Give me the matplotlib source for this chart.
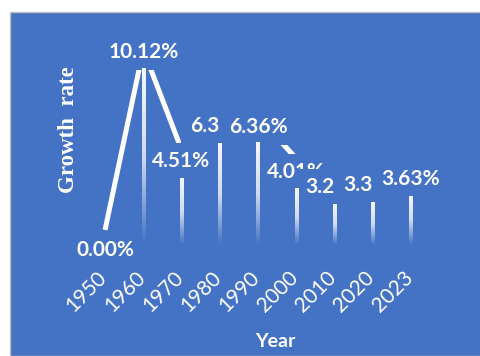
import matplotlib.pyplot as plt
import numpy as np
from matplotlib.colors import LinearSegmentedColormap
from matplotlib.patches import Rectangle
from matplotlib.path import Path
from matplotlib.transforms import ScaledTranslation

years = ['1950', '1960', '1970', '1980', '1990', '2000', '2010', '2020', '2023']
growth = [0.00, 10.12, 4.51, 6.30, 6.36, 4.01, 3.20, 3.30, 3.63]

# vertical nudges (points) for the data labels, roughly where excel put them
label_dy = [-14.5, -1.5, -8.5, -6, -7.5, -9.5, -10, -10, -10]

blue = '#4472C4'


def tall_box(x0, y0, width, height, mutation_size):
    # excel label boxes: opaque, a bit of padding all round
    px = 0.45 * mutation_size
    py = 0.38 * mutation_size
    return Path([(x0 - px, y0 - py), (x0 + width + px, y0 - py),
                 (x0 + width + px, y0 + height + py), (x0 - px, y0 + height + py),
                 (x0 - px, y0 - py)], closed=True)


fig = plt.figure(figsize=(4.8, 3.56), dpi=100, facecolor='white')
fig.add_artist(Rectangle((10 / 480, 0), 1, 1 - 12 / 356, transform=fig.transFigure,
                         facecolor=blue, edgecolor='#BFBFBF', lw=1, zorder=0))

ax = fig.add_axes([0.179, 0.312, 0.717, 0.576])
ax.patch.set_visible(False)
x = np.arange(len(years))

# growth line + labels (opaque boxes, later ones hide earlier ones)
ax.plot(x, growth, color='white', lw=3.6, solid_capstyle='butt',
        solid_joinstyle='round', zorder=2)
for i, (v, dy) in enumerate(zip(growth, label_dy)):
    ax.annotate(f'{v:.2f}%', (i, v), xytext=(0, dy), textcoords='offset points',
                ha='center', va='center', color='white', fontweight='bold',
                fontsize=15, family='Lato',
                bbox=dict(boxstyle=tall_box, fc=blue, ec='none'),
                zorder=3 + i)

ax.set_xlim(-0.5, 8.5)
ax.set_ylim(-0.843, 10.67)
ax.set_yticks([])
for s in ax.spines.values():
    s.set_visible(False)
ax.set_xticks(x, years, rotation=45, ha='right', va='center', rotation_mode='anchor',
              color='white', fontsize=15, family='Lato')
ax.tick_params(axis='x', length=0, pad=21)
for lbl in ax.get_xticklabels():
    lbl.set_transform(lbl.get_transform() + ScaledTranslation(-1 / 72, 0, fig.dpi_scale_trans))
ax.set_xlabel('Year', color='white', fontweight='bold', fontsize=14, family='Lato')
ax.xaxis.set_label_coords(0.549, -0.43)
ax.set_ylabel('Growth  rate', color='white', fontweight='bold', fontsize=16.5,
              family='Liberation Serif')
ax.yaxis.set_label_coords(-0.02, 0.561)

# thin fading bars on a second axis
ax2 = ax.twinx()
ax2.patch.set_visible(False)
bars = ax2.bar(x, growth, width=0.08, color='none', edgecolor='none')
fade = LinearSegmentedColormap.from_list('fade', [(1, 1, 1, 0), (1, 1, 1, 0.75), (1, 1, 1, 0.95)])
grad = np.linspace(0, 1, 256).reshape(-1, 1)
ylo = 1.13
for b in bars:
    x0 = b.get_x()
    im = ax2.imshow(grad, extent=[x0, x0 + b.get_width(), ylo, b.get_height()],
                    origin='lower', aspect='auto', cmap=fade, zorder=1)
    im.set_clip_path(b)
ax2.set_xlim(-0.5, 8.5)
ax2.set_ylim(ylo, 11.54)
ax2.set_yticks([])
for s in ax2.spines.values():
    s.set_visible(False)

fig.savefig('out.png', dpi=100, facecolor='white')
